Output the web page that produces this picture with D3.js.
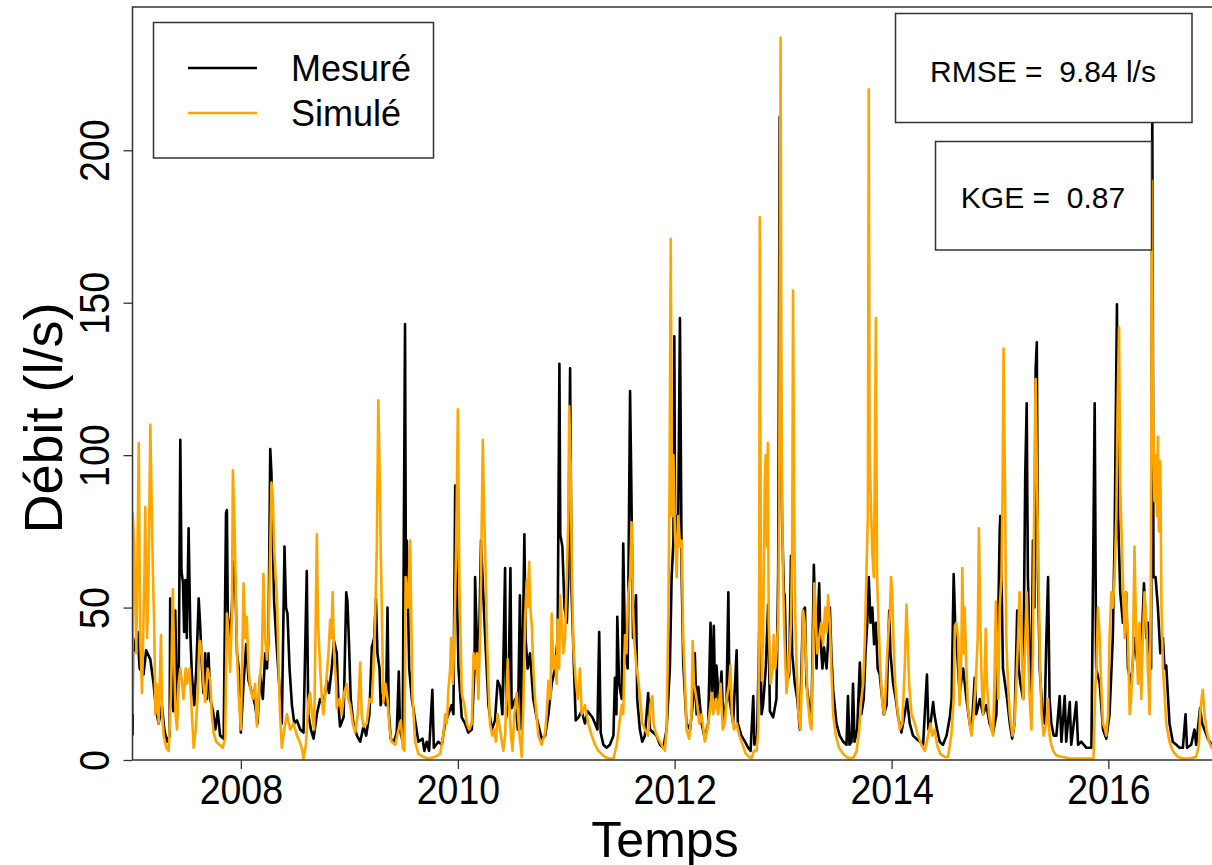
<!DOCTYPE html>
<html><head><meta charset="utf-8">
<script src="https://cdn.jsdelivr.net/npm/d3@7"></script>
<style>body{margin:0;background:#fff}svg{display:block}text{font-family:"Liberation Sans",Arial,sans-serif;fill:#000}</style>
</head><body><svg id="c" width="1212" height="865"></svg>
<script>
const startDate = "2007-01-01";
const endDate = "2017-01-01";
const xTickYears = [2008, 2010, 2012, 2014, 2016];
const yTicks = [0, 50, 100, 150, 200];
const yMax = 247;
const seriesNames = ["Mesuré", "Simulé"];
const seriesColors = ["#000000", "#FFA500"];
const statLabels = ["RMSE =  9.84 l/s", "KGE =  0.87"];
const xTitle = "Temps";
const yTitle = "Débit (l/s)";

// [days since 2007-01-01, l/s]
const mesure = [[0,8],[2,40],[9,36],[17,42],[24,30],[37,28],[46,36],[60,33],[71,25],[80,16],[88,12],[99,18],[107,10],[116,6],[125,8],[127,53],[132,20],[138,16],[144,49],[150,14],[156,30],[161,105],[165,62],[170,58],[174,42],[178,59],[183,40],[189,76],[195,41],[200,28],[208,18],[215,30],[223,53],[228,44],[234,30],[239,22],[245,35],[251,20],[256,35],[262,20],[271,16],[279,10],[287,16],[295,8],[307,7],[315,81],[318,82],[321,47],[327,40],[335,50],[340,65],[346,60],[352,35],[358,30],[365,9],[374,25],[383,38],[391,26],[402,22],[413,18],[421,12],[430,28],[439,20],[447,35],[453,30],[458,40],[464,102],[468,94],[473,70],[477,52],[484,40],[492,28],[503,12],[512,70],[517,50],[522,48],[529,30],[537,18],[545,12],[554,13],[565,10],[576,9],[587,62],[592,15],[601,10],[610,7],[621,15],[632,20],[643,18],[655,26],[662,22],[671,30],[679,39],[688,35],[694,18],[699,11],[711,14],[720,55],[724,52],[729,39],[735,20],[744,12],[756,8],[767,6],[778,11],[787,8],[798,15],[806,37],[814,40],[820,53],[825,35],[832,30],[836,18],[845,22],[854,18],[859,50],[863,16],[870,7],[881,6],[890,9],[897,29],[901,10],[910,6],[918,143],[921,55],[924,72],[932,30],[941,20],[952,13],[963,6],[977,7],[983,3],[991,6],[999,3],[1010,23],[1015,4],[1030,6],[1042,5],[1053,12],[1064,15],[1075,18],[1081,15],[1087,90],[1090,70],[1098,30],[1109,14],[1120,12],[1131,9],[1143,10],[1152,30],[1154,60],[1157,49],[1165,26],[1174,72],[1179,60],[1188,40],[1199,18],[1210,10],[1221,13],[1230,26],[1238,24],[1246,15],[1255,63],[1259,14],[1266,20],[1273,63],[1277,17],[1289,20],[1298,10],[1305,54],[1311,10],[1320,74],[1324,40],[1331,30],[1339,35],[1350,20],[1361,14],[1378,7],[1390,8],[1401,15],[1412,25],[1423,30],[1432,40],[1438,130],[1441,74],[1448,70],[1455,50],[1463,45],[1468,60],[1474,128.5],[1479,55],[1487,30],[1493,13],[1502,14],[1513,16],[1524,12],[1533,16],[1541,15],[1549,14],[1558,12],[1566,10],[1572,42],[1577,9],[1586,5],[1597,4],[1608,5],[1620,8],[1625,27],[1630,15],[1633,47],[1639,25],[1648,20],[1653,71],[1659,35],[1668,30],[1676,121],[1680,92],[1686,40],[1696,54],[1700,20],[1709,10],[1717,6],[1726,8],[1737,22],[1743,10],[1754,9],[1765,8],[1777,5],[1788,4],[1799,10],[1810,30],[1816,60],[1822,72],[1825,139],[1828,70],[1833,80],[1838,75],[1844,145],[1850,60],[1855,32],[1866,12],[1878,10],[1889,20],[1894,35],[1900,15],[1906,24],[1917,12],[1928,7],[1939,12],[1947,45],[1952,20],[1958,44],[1963,18],[1967,31],[1976,18],[1984,29],[1990,12],[2001,20],[2007,55],[2011,20],[2023,12],[2035,36],[2039,12],[2051,8],[2063,6],[2074,4],[2082,3],[2091,21],[2095,5],[2104,8],[2113,51],[2119,15],[2124,18],[2133,30],[2141,51],[2147,16],[2158,14],[2169,20],[2175,62],[2180,211],[2185,100],[2188,79],[2194,55],[2197,54],[2203,25],[2212,28],[2218,67],[2222,35],[2231,25],[2239,20],[2248,10],[2256,40],[2259,49],[2265,50],[2270,25],[2279,18],[2287,12],[2295,64],[2299,50],[2304,30],[2313,58],[2317,40],[2324,30],[2329,37],[2338,30],[2349,50],[2354,35],[2360,23],[2371,12],[2382,8],[2394,6],[2405,5],[2410,21],[2415,5],[2422,6],[2427,25],[2432,6],[2441,10],[2450,32],[2455,15],[2463,20],[2469,35],[2475,45],[2480,60],[2486,45],[2492,50],[2498,38],[2504,45],[2510,30],[2517,28],[2523,22],[2531,15],[2540,18],[2549,49],[2553,35],[2562,25],[2571,20],[2579,14],[2590,9],[2601,15],[2609,20],[2618,12],[2629,8],[2640,7],[2652,6],[2663,5],[2676,28],[2681,10],[2688,12],[2697,19],[2701,15],[2710,10],[2719,6],[2730,5],[2742,8],[2753,14],[2759,20],[2766,61],[2771,45],[2778,35],[2786,22],[2798,30],[2809,20],[2820,12],[2826,9],[2837,27],[2842,15],[2854,20],[2865,15],[2876,18],[2887,12],[2899,9],[2910,15],[2915,40],[2921,75],[2923,80],[2928,55],[2932,30],[2939,25],[2946,20],[2955,12],[2963,7],[2971,12],[2980,49],[2985,30],[2991,25],[3000,20],[3007,93],[3012,117],[3016,60],[3022,35],[3028,15],[3033,72],[3038,50],[3042,128],[3046,137],[3050,60],[3056,30],[3065,15],[3072,12],[3078,39],[3084,60],[3089,20],[3095,12],[3103,8],[3112,8],[3123,21],[3129,6],[3140,21],[3145,6],[3157,19],[3162,5],[3179,19],[3185,5],[3196,6],[3213,4],[3230,4],[3241,117],[3246,30],[3258,25],[3269,10],[3280,7],[3291,15],[3302,40],[3308,72],[3316,149.5],[3320,80],[3327,55],[3336,45],[3347,55],[3353,30],[3364,25],[3375,40],[3387,30],[3398,35],[3407,58],[3415,40],[3420,45],[3426,35],[3431,30],[3435,215],[3439,60],[3446,60],[3454,50],[3462,35],[3471,40],[3476,30],[3482,31],[3493,12],[3504,6],[3516,5],[3527,4],[3538,4],[3547,15],[3552,4],[3566,5],[3577,10],[3583,5],[3596,17],[3603,12],[3611,10],[3622,7],[3635,5],[3652,6]];

const simule = [[0,15],[1,81],[6,70],[13,35],[21,104],[26,40],[32,22],[40,60],[43,83],[49,40],[54,59],[60,110],[64,88],[69,60],[73,45],[77,15],[82,25],[88,12],[96,41],[100,15],[105,8],[114,4],[122,3],[129,20],[136,56],[141,30],[145,15],[150,10],[155,25],[161,30],[167,25],[172,20],[179,30],[183,25],[192,30],[200,15],[206,4],[213,10],[219,20],[225,38],[228,39],[234,34],[239,25],[245,19],[253,30],[262,26],[267,15],[273,9],[282,6],[293,5],[304,4],[312,7],[318,48],[324,40],[329,29],[335,48],[338,95],[343,80],[346,65],[352,35],[357,22],[365,10],[371,40],[374,58],[380,40],[385,47],[391,30],[396,24],[405,20],[413,25],[419,11],[428,25],[436,35],[441,61],[447,40],[453,33],[458,40],[464,70],[468,91],[473,85],[477,70],[482,60],[486,55],[492,31],[497,15],[503,4],[511,10],[520,15],[531,10],[542,12],[554,8],[563,6],[570,4],[576,0.5],[584,5],[593,20],[598,22],[605,15],[612,10],[621,74],[625,45],[632,30],[638,20],[643,15],[652,25],[660,35],[666,46],[670,40],[674,55],[679,35],[686,25],[688,17],[697,20],[705,15],[713,22],[722,25],[727,20],[733,18],[742,12],[750,9],[759,15],[767,32],[772,15],[778,11],[789,12],[798,20],[806,19],[812,30],[817,45],[823,70],[828,118],[833,92],[836,70],[840,48],[845,19],[852,25],[859,20],[866,10],[873,6],[885,5],[896,10],[904,13],[910,4],[916,3],[920,60],[928,50],[935,72],[940,40],[943,21],[952,6],[963,2],[980,1],[997,0.5],[1019,1],[1036,2],[1047,8],[1053,15],[1059,12],[1064,23],[1070,30],[1073,40],[1079,25],[1084,40],[1090,69],[1096,115],[1101,59],[1106,35],[1109,22],[1118,18],[1126,12],[1134,10],[1143,12],[1149,35],[1155,30],[1160,35],[1165,20],[1172,45],[1176,75],[1180,105],[1184,83],[1190,60],[1194,40],[1199,25],[1204,12],[1212,8],[1219,10],[1224,6],[1230,15],[1238,10],[1249,3],[1255,8],[1261,25],[1264,33],[1268,20],[1275,8],[1280,3],[1286,15],[1294,22],[1302,10],[1311,1],[1317,20],[1322,45],[1328,59],[1331,50],[1336,65],[1340,50],[1345,44],[1350,30],[1356,20],[1367,8],[1378,5],[1390,9],[1395,15],[1401,26],[1408,20],[1412,48],[1418,30],[1423,34],[1429,25],[1432,46],[1437,30],[1441,54],[1446,45],[1451,35],[1457,40],[1463,60],[1468,80],[1471,116],[1476,96],[1479,70],[1485,37],[1493,26],[1500,20],[1507,30],[1513,15],[1524,18],[1535,12],[1547,8],[1558,5],[1569,3],[1580,2],[1592,1],[1605,0.5],[1620,0.5],[1631,5],[1640,12],[1648,18],[1653,15],[1659,41],[1664,35],[1670,55],[1676,60],[1681,78],[1686,50],[1690,39],[1698,30],[1704,26],[1712,18],[1717,12],[1726,10],[1737,8],[1744,18],[1751,21],[1755,12],[1762,9],[1771,7],[1782,5],[1793,3],[1799,10],[1805,48],[1809,90],[1813,171],[1817,80],[1822,100],[1827,75],[1833,60],[1838,80],[1844,70],[1850,72],[1855,40],[1861,25],[1866,10],[1875,7],[1883,15],[1887,39],[1891,25],[1900,20],[1909,12],[1917,15],[1928,6],[1936,10],[1943,15],[1952,22],[1956,15],[1965,20],[1973,15],[1981,25],[1988,10],[1995,12],[2001,20],[2010,25],[2014,31],[2019,15],[2026,10],[2035,12],[2044,8],[2055,5],[2066,2],[2077,1],[2085,0.5],[2093,3],[2102,3],[2108,10],[2111,60],[2113,178],[2117,50],[2120,26],[2124,40],[2130,93],[2133,100],[2137,70],[2140,104],[2143,45],[2149,25],[2156,30],[2160,41],[2165,30],[2169,35],[2175,45],[2178,80],[2183,237],[2186,110],[2191,60],[2196,40],[2203,22],[2211,30],[2218,45],[2222,70],[2225,154],[2229,80],[2232,49],[2237,30],[2243,15],[2250,10],[2255,30],[2259,49],[2264,45],[2268,35],[2274,20],[2282,12],[2287,10],[2293,40],[2297,58],[2302,45],[2306,35],[2313,40],[2320,45],[2326,38],[2333,50],[2338,42],[2343,54],[2349,45],[2354,30],[2360,15],[2369,8],[2380,4],[2394,2],[2405,1],[2418,0.5],[2430,1],[2439,3],[2448,10],[2455,20],[2461,25],[2467,40],[2472,61],[2477,80],[2480,220],[2483,100],[2488,81],[2492,68],[2497,60],[2500,90],[2504,145],[2508,60],[2513,45],[2519,30],[2526,18],[2533,15],[2540,30],[2545,40],[2551,48],[2555,60],[2559,55],[2563,40],[2569,25],[2575,18],[2584,10],[2593,12],[2601,30],[2607,51],[2611,40],[2616,25],[2624,15],[2635,12],[2646,8],[2657,5],[2669,3],[2680,8],[2688,12],[2694,8],[2702,10],[2710,5],[2721,2],[2736,1],[2747,1],[2758,8],[2766,20],[2770,44],[2775,45],[2781,40],[2786,18],[2792,35],[2795,63],[2800,35],[2803,50],[2809,30],[2814,17],[2820,12],[2826,8],[2833,15],[2840,25],[2847,40],[2851,76],[2856,45],[2859,30],[2865,15],[2871,30],[2874,43],[2878,25],[2885,15],[2893,10],[2899,8],[2904,30],[2908,52],[2912,35],[2916,20],[2921,50],[2927,60],[2931,92],[2934,135],[2939,90],[2943,40],[2949,25],[2955,15],[2964,8],[2971,12],[2977,25],[2983,40],[2988,55],[2993,45],[3000,20],[3006,35],[3012,55],[3016,40],[3022,20],[3028,10],[3033,35],[3039,101],[3042,125],[3047,90],[3050,71],[3056,35],[3062,15],[3069,8],[3078,12],[3084,20],[3089,8],[3095,5],[3101,3],[3112,1.5],[3134,1],[3157,0.5],[3179,0.5],[3201,0.5],[3224,0.5],[3237,0.5],[3243,24],[3247,30],[3252,50],[3258,40],[3263,24],[3269,12],[3276,10],[3280,8],[3286,15],[3291,40],[3297,55],[3302,50],[3308,60],[3314,80],[3318,115],[3323,142],[3327,90],[3331,76],[3336,59],[3342,40],[3347,55],[3353,40],[3359,15],[3364,20],[3370,35],[3375,70],[3381,40],[3387,25],[3392,45],[3398,20],[3403,40],[3409,55],[3415,45],[3420,30],[3426,15],[3430,50],[3434,190],[3437,120],[3442,85],[3446,100],[3451,80],[3454,106],[3457,75],[3462,98],[3466,50],[3471,30],[3476,22],[3482,12],[3493,6],[3504,3],[3521,1],[3538,0.5],[3561,0.5],[3583,1],[3592,5],[3596,15],[3601,20],[3605,23],[3611,15],[3617,10],[3626,6],[3635,4],[3652,3]];

const svg = d3.select("#c");
const W = 1212, H = 865;
const pLeft = 132.5, pRight = 1217, pTop = 7, pBottom = 760;
const t0 = new Date(startDate + "T00:00:00Z");
const toDate = d => d3.utcDay.offset(t0, d);
const x = d3.scaleUtc().domain([t0, new Date(endDate + "T00:00:00Z")]).range([pLeft, pRight]);
const y = d3.scaleLinear().domain([0, yMax]).range([pBottom, pTop]);

svg.append("rect").attr("width", W).attr("height", H).attr("fill", "#fff");
svg.append("defs").append("clipPath").attr("id", "clip")
  .append("rect").attr("x", pLeft).attr("y", pTop).attr("width", pRight - pLeft).attr("height", pBottom - pTop);

const line = d3.line().x(d => x(toDate(d[0]))).y(d => y(d[1]));
const g = svg.append("g").attr("clip-path", "url(#clip)");
[mesure, simule].forEach((s, i) => {
  g.append("path").datum(s).attr("d", line).attr("fill", "none")
    .attr("stroke", seriesColors[i]).attr("stroke-width", 2.6).attr("stroke-linejoin", "round");
});

const FONT = '"Liberation Sans",Arial,sans-serif';
// axes
const xAxis = svg.append("g").attr("transform", `translate(0,${pBottom})`)
  .call(d3.axisBottom(x).tickValues(xTickYears.map(v => new Date(Date.UTC(v, 0, 1)))).tickFormat(d3.utcFormat("%Y")).tickSize(9).tickSizeOuter(0));
xAxis.select(".domain").remove();
xAxis.selectAll(".tick line").attr("stroke", "#333").attr("stroke-width", 1.3);
xAxis.selectAll(".tick text").attr("font-size", 37.5).attr("y", 0).attr("dy", 0)
  .attr("transform", "translate(0,44) scale(1,1.15)").style("font-family", FONT);

const yAxis = svg.append("g").attr("transform", `translate(${pLeft},0)`)
  .call(d3.axisLeft(y).tickValues(yTicks).tickSize(9).tickSizeOuter(0));
yAxis.select(".domain").remove();
yAxis.selectAll(".tick line").attr("stroke", "#333").attr("stroke-width", 1.3);
yAxis.selectAll(".tick text").attr("font-size", 37.5).attr("x", 0).attr("dy", 0)
  .attr("text-anchor", "middle").attr("transform", "translate(-24,0) rotate(-90) scale(1,1.15)")
  .style("font-family", FONT);

// box
svg.append("path").attr("d", `M${pLeft},${pBottom}V${pTop}H${W + 5}M${pLeft},${pBottom}H${W + 5}`)
  .attr("fill", "none").attr("stroke", "#333").attr("stroke-width", 1.5);

// titles
svg.append("text").attr("x", 665).attr("y", 857).attr("text-anchor", "middle").attr("font-size", 50).text(xTitle);
svg.append("text").attr("transform", "translate(62,418) rotate(-90)").attr("text-anchor", "middle").attr("font-size", 54).text(yTitle);

// legend
const leg = svg.append("g");
leg.append("rect").attr("x", 153.5).attr("y", 22.5).attr("width", 280).attr("height", 135.5)
  .attr("fill", "#fff").attr("stroke", "#333").attr("stroke-width", 1.5);
seriesNames.forEach((n, i) => {
  const ly = 68 + i * 45;
  leg.append("line").attr("x1", 188).attr("x2", 257).attr("y1", ly).attr("y2", ly)
    .attr("stroke", seriesColors[i]).attr("stroke-width", 2.6);
  leg.append("text").attr("x", 291).attr("y", ly + 13).attr("font-size", 36).text(n);
});

// stat boxes
const boxes = [{x: 895.5, y: 13.5, w: 296.5, h: 109, tx: 1043, ty: 82},
               {x: 935.5, y: 141.5, w: 216, h: 108.5, tx: 1043, ty: 208}];
statLabels.forEach((s, i) => {
  const b = boxes[i];
  svg.append("rect").attr("x", b.x).attr("y", b.y).attr("width", b.w).attr("height", b.h)
    .attr("fill", "#fff").attr("stroke", "#333").attr("stroke-width", 1.5);
  svg.append("text").attr("x", b.tx).attr("y", b.ty).attr("text-anchor", "middle")
    .attr("font-size", 30).style("white-space", "pre").text(s);
});
</script></body></html>
